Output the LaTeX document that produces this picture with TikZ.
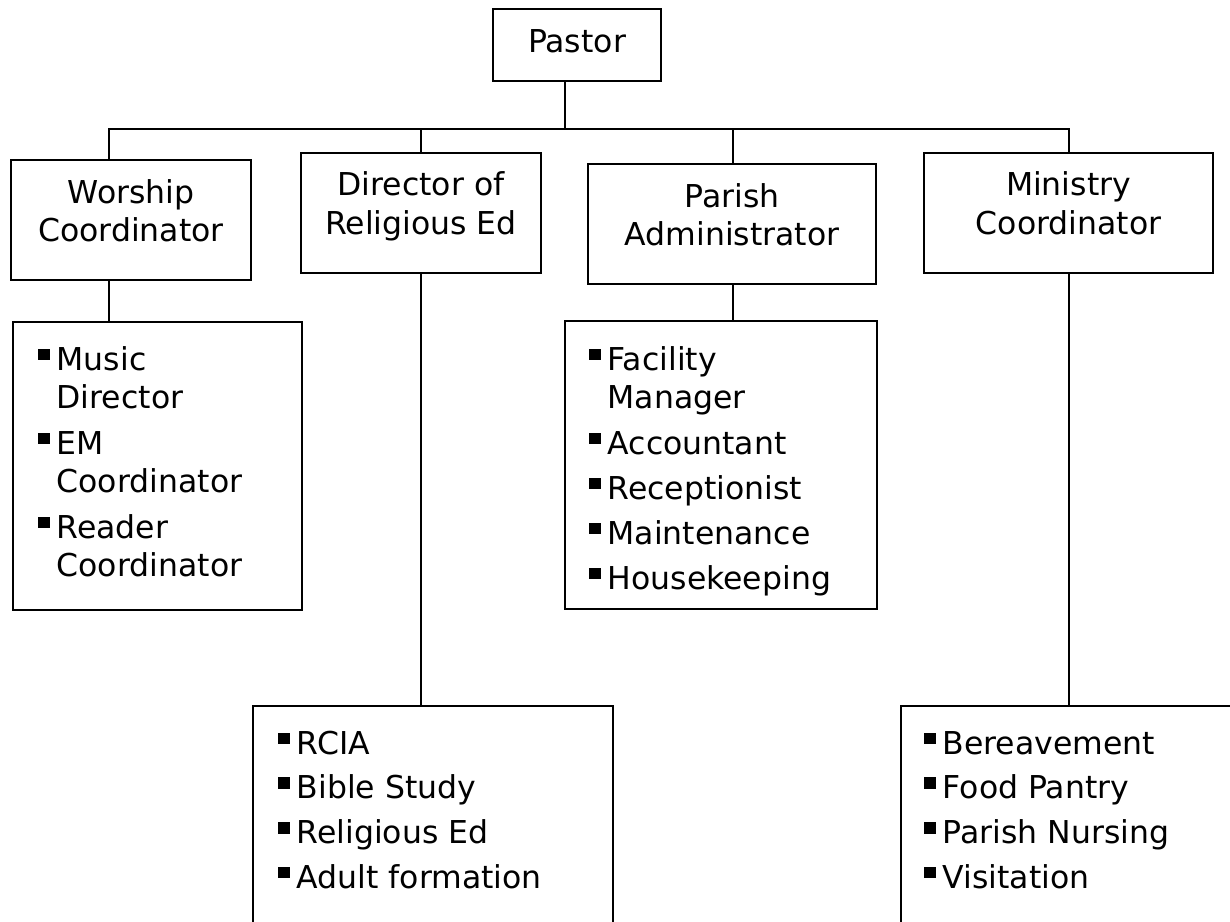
\documentclass[tikz,border=0pt]{standalone}
\usepackage{fontspec}
\setmainfont{DejaVu Sans}
\newcommand{\bulsq}{\rule[10pt]{11.5pt}{11.5pt}\hspace{7pt}}
\begin{document}
\begin{tikzpicture}[x=1pt,y=-1pt,
  box/.style={draw, line width=1.8pt, inner sep=0pt, rectangle},
  conn/.style={line width=1.8pt},
  txt/.style={inner sep=0pt, font=\fontsize{31.5}{38.5}\selectfont},
  ctext/.style={txt, anchor=base},
  ltext/.style={txt, anchor=base west}]
\useasboundingbox (0,0) rectangle (1230,921);
\clip (0,0) rectangle (1230,921);
\fill[white] (0,0) rectangle (1230,921);

% boxes
\node[box, minimum width=168pt, minimum height=72pt] (pastor) at (577,45) {};
\node[box, minimum width=240pt, minimum height=120pt] (wor) at (131,220) {};
\node[box, minimum width=240pt, minimum height=120pt] (dir) at (421,213) {};
\node[box, minimum width=288pt, minimum height=120pt] (par) at (732,224) {};
\node[box, minimum width=289pt, minimum height=120pt] (min) at (1068.5,213) {};
\node[box, minimum width=289pt, minimum height=288pt] (wlist) at (157.5,466) {};
\node[box, minimum width=312pt, minimum height=288pt] (plist) at (721,465) {};
\node[box, minimum width=360pt, minimum height=224pt] (dlist) at (433,818) {};
\node[box, minimum width=339pt, minimum height=224pt] (mlist) at (1070.5,818) {};

% connector coordinates
\coordinate (c0) at (565,129);
\coordinate (c1) at (109,129);
\coordinate (c2) at (421,129);
\coordinate (c3) at (733,129);
\coordinate (c4) at (1069,129);

\draw[conn] (c0 |- pastor.south) -- (c0);
\draw[conn] (c1 |- wor.north) -- (c1) -- (c4) -- (c4 |- min.north);
\draw[conn] (c2) -- (c2 |- dir.north);
\draw[conn] (c3) -- (c3 |- par.north);
\draw[conn] (c1 |- wor.south) -- (c1 |- wlist.north);
\draw[conn] (c2 |- dir.south) -- (c2 |- dlist.north);
\draw[conn] (c3 |- par.south) -- (c3 |- plist.north);
\draw[conn] (c4 |- min.south) -- (c4 |- mlist.north);

% header texts
\node[ctext] (pastorT) at (577,52) {Pastor};
\node[ctext] (worT1) at (131,203) {Worship};
\node[ctext] (worT2) at (131,241.5) {Coordinator};
\node[ctext] (dirT1) at (421,195.5) {Director of};
\node[ctext] (dirT2) at (421,234) {Religious Ed};
\node[ctext] (parT1) at (732,207) {Parish};
\node[ctext] (parT2) at (732,245.5) {Administrator};
\node[ctext] (minT1) at (1068.5,195.5) {Ministry};
\node[ctext] (minT2) at (1068.5,234) {Coordinator};

% worship list
\node[ltext] (w1) at (38,370) {\bulsq Music};
\node[ltext] (w1b) at (56.5,408.5) {Director};
\node[ltext] (w2) at (38,454) {\bulsq EM};
\node[ltext] (w2b) at (56.5,492.5) {Coordinator};
\node[ltext] (w3) at (38,538) {\bulsq Reader};
\node[ltext] (w3b) at (56.5,576.5) {Coordinator};

% parish list
\node[ltext] (p1) at (589,370) {\bulsq Facility};
\node[ltext] (p1b) at (607.5,408.5) {Manager};
\node[ltext] (p2) at (589,454) {\bulsq Accountant};
\node[ltext] (p3) at (589,499) {\bulsq Receptionist};
\node[ltext] (p4) at (589,544) {\bulsq Maintenance};
\node[ltext] (p5) at (589,589) {\bulsq Housekeeping};

% director list
\node[ltext] (d1) at (278,754) {\bulsq RCIA};
\node[ltext] (d2) at (278,798.5) {\bulsq Bible Study};
\node[ltext] (d3) at (278,843.5) {\bulsq Religious Ed};
\node[ltext] (d4) at (278,888) {\bulsq Adult formation};

% ministry list
\node[ltext] (m1) at (924,754) {\bulsq Bereavement};
\node[ltext] (m2) at (924,798.5) {\bulsq Food Pantry};
\node[ltext] (m3) at (924,843.5) {\bulsq Parish Nursing};
\node[ltext] (m4) at (924,888) {\bulsq Visitation};
\end{tikzpicture}
\end{document}
